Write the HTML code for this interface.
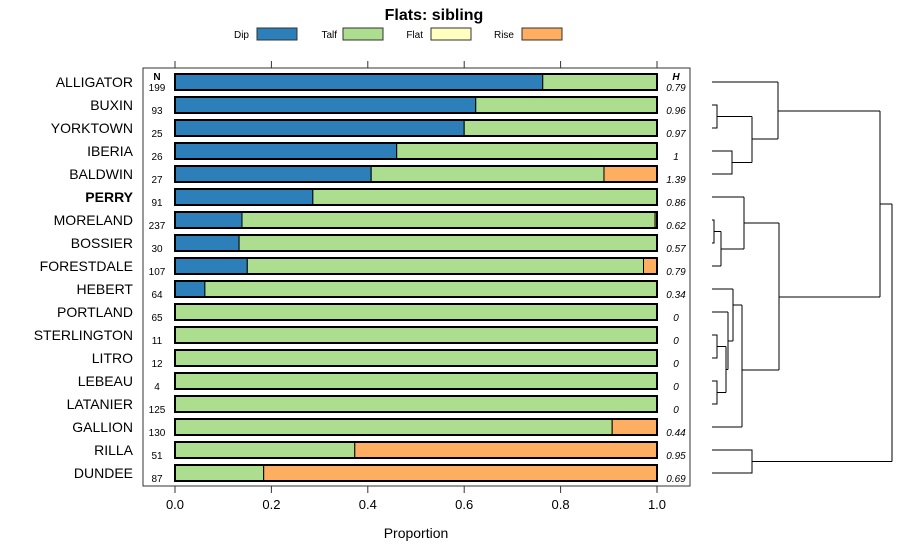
<!DOCTYPE html>
<html><head><meta charset="utf-8"><style>
body{margin:0;background:#fff}
svg{display:block;font-family:"Liberation Sans",sans-serif}
</style></head><body>
<svg id="c" width="900" height="560">
<text x="434" y="20" text-anchor="middle" font-size="16" font-weight="bold">Flats: sibling</text>
<g id="legend"></g>
<rect x="143" y="68" width="547" height="418" fill="none" stroke="#333" stroke-width="1"/>
<g id="bars"></g>
<g id="axes"></g>
<g id="dendro" stroke="#000" stroke-width="1" fill="none"></g>
<text x="416" y="538" text-anchor="middle" font-size="14">Proportion</text>
</svg>
<script>
const categories=["ALLIGATOR","BUXIN","YORKTOWN","IBERIA","BALDWIN","PERRY","MORELAND","BOSSIER","FORESTDALE","HEBERT","PORTLAND","STERLINGTON","LITRO","LEBEAU","LATANIER","GALLION","RILLA","DUNDEE"];
const counts=[199,93,25,26,27,91,237,30,107,64,65,11,12,4,125,130,51,87];
const hValues=["0.79","0.96","0.97","1","1.39","0.86","0.62","0.57","0.79","0.34","0","0","0","0","0","0.44","0.95","0.69"];
const dip=[0.763,0.624,0.6,0.46,0.407,0.286,0.139,0.133,0.15,0.062,0,0,0,0,0,0,0,0];
const talf=[0.237,0.376,0.4,0.54,0.483,0.714,0.857,0.867,0.822,0.938,1,1,1,1,1,0.907,0.373,0.184];
const flat=[0,0,0,0,0,0,0,0,0,0,0,0,0,0,0,0,0,0];
const rise=[0,0,0,0,0.11,0,0.004,0,0.028,0,0,0,0,0,0,0.093,0.627,0.816];
const seriesNames=["Dip","Talf","Flat","Rise"];
const colors=["#2c7fb8","#addd8e","#ffffbf","#fdae61"];
const ticks=[0,0.2,0.4,0.6,0.8,1.0];
const tickLabels=["0.0","0.2","0.4","0.6","0.8","1.0"];

const NS="http://www.w3.org/2000/svg";
function mk(tag,attrs,parent,text){const e=document.createElementNS(NS,tag);for(const k in attrs)e.setAttribute(k,attrs[k]);if(text!==undefined)e.textContent=text;parent.appendChild(e);return e;}
const xs=v=>175+v*482;
const ys=i=>82+i*23;

const legend=document.getElementById('legend');
const legPos=[[249,257],[337,343],[423,431],[514,522]];
seriesNames.forEach((n,i)=>{
  const t=mk('text',{x:legPos[i][0],y:38,'text-anchor':'end','font-size':10},legend,n);
  
  
  const r=mk('rect',{x:legPos[i][1],y:28,width:40,height:12,fill:colors[i],stroke:'#333'},legend);
  
  
});

const bars=document.getElementById('bars');
const series=[dip,talf,flat,rise];
categories.forEach((c,i)=>{
  const y=ys(i);
  const lab=mk('text',{x:133,y:y+5,'text-anchor':'end','font-size':14,'font-weight':c==='PERRY'?'bold':'normal'},bars,c);
  
  
  let acc=0;
  series.forEach((s,k)=>{
    const v=s[i];
    if(v>0){
      const r=mk('rect',{x:xs(acc),y:y-8,width:xs(acc+v)-xs(acc),height:16,fill:colors[k],stroke:'#000','stroke-width':1},bars);
      
      
    }
    acc+=v;
  });
  const fr=mk('rect',{x:xs(0),y:y-8,width:482,height:16,fill:'none',stroke:'#000','stroke-width':2},bars);
  
  
  const n=mk('text',{x:157,y:y+9,'text-anchor':'middle','font-size':10},bars,String(counts[i]));
  
  
  const h=mk('text',{x:676,y:y+9,'text-anchor':'middle','font-size':10,'font-style':'italic'},bars,hValues[i]);
  
  
});
const nh=mk('text',{x:157,y:80,'text-anchor':'middle','font-size':10,'font-weight':'bold'},bars,'N');


const hh=mk('text',{x:676,y:80,'text-anchor':'middle','font-size':10,'font-weight':'bold','font-style':'italic'},bars,'H');



const axes=document.getElementById('axes');
ticks.forEach((t,i)=>{
  const x=xs(t);
  mk('line',{x1:x,x2:x,y1:61,y2:68,stroke:'#333'},axes);
  mk('line',{x1:x,x2:x,y1:486,y2:493,stroke:'#333'},axes);
  const l=mk('text',{x:x,y:509,'text-anchor':'middle','font-size':13},axes,tickLabels[i]);
  
  
});

const d=document.getElementById('dendro');
const segs=[
 "M712,82H778","M712,105H717V128H712","M717,116.5H752","M712,151H732V174H712","M732,162.5H752",
 "M752,116.5V162.5","M752,139H778","M778,82V139","M778,111H880",
 "M712,197H744","M712,220H714V243H712","M714,231.5H721","M712,266H721","M721,231.5V266","M721,249H744","M744,197V249","M744,223H779",
 "M712,289H733","M712,312H728","M712,335H717V358H712","M717,346.5H726","M712,381H717V404H712","M717,392.5H726","M726,346.5V392.5","M726,369.5H728",
 "M728,312V369.5","M728,341H733","M733,289V341","M733,305H742","M712,427H742","M742,305V427","M742,370H779","M779,223V370","M779,297H880",
 "M880,111V297","M880,204H892","M712,450H752V473H712","M752,461.5H892","M892,204V461.5"
];
segs.forEach(s=>{const p=mk('path',{d:s},d);});
</script>
</body></html>
